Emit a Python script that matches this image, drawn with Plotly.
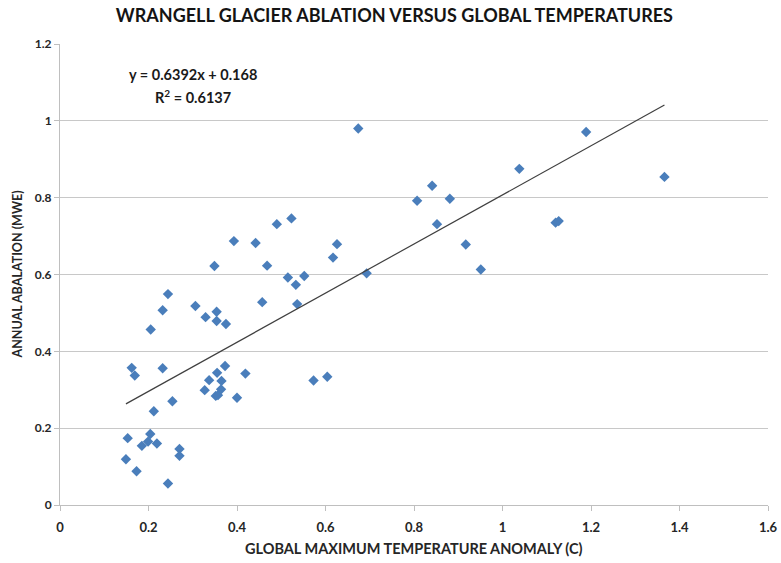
import plotly.graph_objects as go

temp_anomaly = [0.149, 0.153, 0.162, 0.169, 0.173, 0.185, 0.199, 0.204, 0.205, 0.212,
                0.219, 0.232, 0.232, 0.244, 0.244, 0.254, 0.270, 0.270, 0.306, 0.329,
                0.327, 0.337, 0.349, 0.354, 0.354, 0.355, 0.352, 0.357, 0.364, 0.365,
                0.373, 0.375, 0.393, 0.400, 0.419, 0.442, 0.457, 0.468, 0.490, 0.515,
                0.523, 0.533, 0.536, 0.552, 0.573, 0.604, 0.617, 0.626, 0.674, 0.693,
                0.807, 0.841, 0.852, 0.881, 0.917, 0.951, 1.038, 1.120, 1.127, 1.189,
                1.366]
ablation = [0.119, 0.174, 0.357, 0.337, 0.088, 0.154, 0.165, 0.185, 0.457, 0.244,
            0.160, 0.507, 0.356, 0.549, 0.056, 0.270, 0.146, 0.128, 0.518, 0.489,
            0.299, 0.325, 0.622, 0.503, 0.479, 0.344, 0.284, 0.286, 0.301, 0.323,
            0.362, 0.471, 0.687, 0.279, 0.342, 0.682, 0.528, 0.623, 0.731, 0.592,
            0.746, 0.573, 0.523, 0.596, 0.324, 0.334, 0.644, 0.679, 0.980, 0.603,
            0.792, 0.831, 0.731, 0.797, 0.678, 0.613, 0.875, 0.735, 0.739, 0.971,
            0.854]

slope = 0.6392
intercept = 0.168
r_squared = 0.6137

x_ticks = [0, 0.2, 0.4, 0.6, 0.8, 1, 1.2, 1.4, 1.6]
x_tick_labels = ["0", "0.2", "0.4", "0.6", "0.8", "1", "1.2", "1.4", "1.6"]
y_ticks = [0, 0.2, 0.4, 0.6, 0.8, 1, 1.2]
y_tick_labels = ["0", "0.2", "0.4", "0.6", "0.8", "1", "1.2"]

x_min, x_max = min(temp_anomaly), max(temp_anomaly)
trend_x = [x_min, x_max]
trend_y = [slope * v + intercept for v in trend_x]

FONT = "Lato"
TXT = "#262626"
W, H = 781, 563
ML, MR, MT, MB = 60, 13, 44, 58
plot_w = W - ML - MR
plot_h = H - MT - MB

fig = go.Figure()
fig.add_trace(go.Scatter(
    x=temp_anomaly, y=ablation, mode="markers",
    marker=dict(symbol="diamond", size=8, color="#4A7EBB"),
    showlegend=False, hoverinfo="x+y"))
fig.add_trace(go.Scatter(
    x=trend_x, y=trend_y, mode="lines",
    line=dict(color="#404040", width=1.2),
    showlegend=False, hoverinfo="skip"))

fig.update_layout(
    width=W, height=H,
    margin=dict(l=ML, r=MR, t=MT, b=MB),
    paper_bgcolor="white", plot_bgcolor="white",
    font=dict(family=FONT, color=TXT),
    title=dict(text="<b>WRANGELL GLACIER ABLATION VERSUS GLOBAL TEMPERATURES</b>",
               x=0.505, xanchor="center", y=1 - 16 / H, yanchor="middle",
               font=dict(size=18, family=FONT, color="#141414")),
    xaxis=dict(range=[0, 1.6], tickvals=x_ticks, ticktext=["<b>%s</b>" % t for t in x_tick_labels],
               showgrid=False, zeroline=False, showline=True, linecolor="#BFBFBF", linewidth=1,
               ticks="outside", ticklen=5, tickcolor="#BFBFBF", automargin=False,
               ticklabelstandoff=5,
               tickfont=dict(size=13, family=FONT, color=TXT)),
    yaxis=dict(range=[0, 1.2], tickvals=y_ticks, ticktext=["<b>%s</b>" % t for t in y_tick_labels],
               showgrid=True, gridcolor="#C8C8C8", gridwidth=1.2,
               zeroline=False, showline=True, linecolor="#BFBFBF", linewidth=1,
               ticks="outside", ticklen=5, tickcolor="#BFBFBF", automargin=False,
               tickfont=dict(size=12, family=FONT, color=TXT)),
)

fig.add_annotation(x=0.5, xref="paper", xanchor="center",
                   y=(H - MB - 548) / plot_h, yref="paper", yanchor="middle",
                   text="<b>GLOBAL MAXIMUM TEMPERATURE ANOMALY (C)</b>", showarrow=False,
                   font=dict(size=14.5, family=FONT, color=TXT))
fig.add_annotation(x=(17 - ML) / plot_w, xref="paper", xanchor="center",
                   y=0.5, yref="paper", yanchor="middle", showarrow=False,
                   text="<b>ANNUAL ABALATION (MWE)</b>", textangle=-90,
                   font=dict(size=12.5, family=FONT, color=TXT))

fig.add_annotation(x=0.3, y=1.12, xref="x", yref="y", xanchor="center",
                   text="<b>y = 0.6392x + 0.168</b>", showarrow=False,
                   font=dict(size=14.5, family=FONT, color="#1a1a1a"))
fig.add_annotation(x=0.3, y=1.063, xref="x", yref="y", xanchor="center",
                   text="<b>R<sup>2</sup> = %.4f</b>" % r_squared, showarrow=False,
                   font=dict(size=14.5, family=FONT, color="#1a1a1a"))

fig.write_html("out.html", config={"displayModeBar": False},
               post_script="document.body.style.margin='0';document.body.style.padding='0';")
